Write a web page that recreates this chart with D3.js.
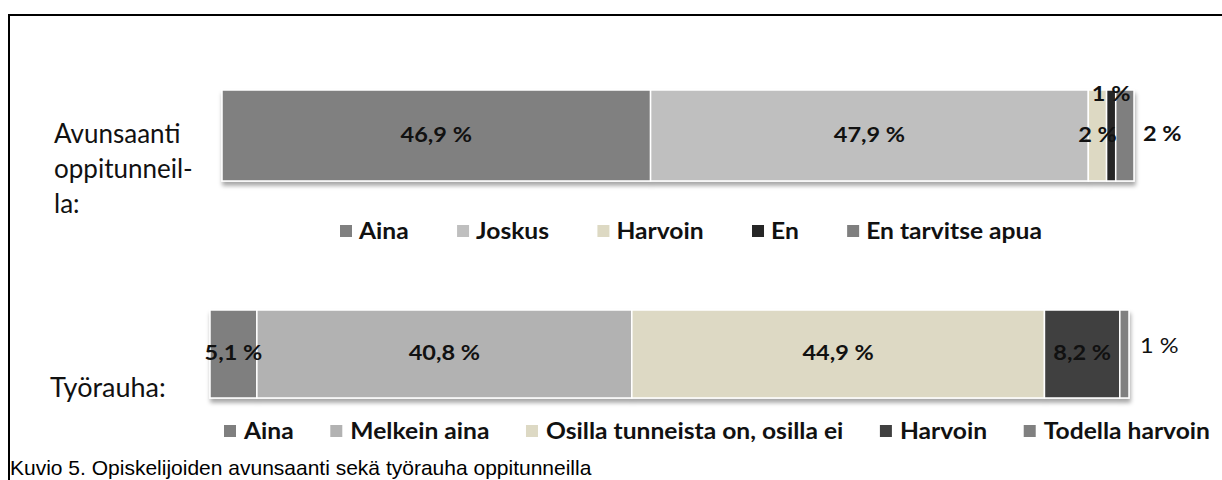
<!DOCTYPE html>
<html>
<head>
<meta charset="utf-8">
<script src="https://cdn.jsdelivr.net/npm/d3@7/dist/d3.min.js"></script>
<style>
    body { margin: 0; background: #ffffff; }
    svg { display: block; }
</style>
</head>
<body>
<div class="figure"></div>
<script>

// Avunsaanti oppitunneilla
var help_categories = ["Aina", "Joskus", "Harvoin", "En", "En tarvitse apua"];
var help_values = [46.9, 47.9, 2, 1, 2];
var help_labels = ["46,9 %", "47,9 %", "2 %", "1 %", "2 %"];
var help_colors = ["#808080", "#bfbfbf", "#ddd9c3", "#262626", "#7f7f7f"];

// Työrauha
var peace_categories = ["Aina", "Melkein aina", "Osilla tunneista on, osilla ei", "Harvoin", "Todella harvoin"];
var peace_values = [5.1, 40.8, 44.9, 8.2, 1];
var peace_labels = ["5,1 %", "40,8 %", "44,9 %", "8,2 %", "1 %"];
var peace_colors = ["#7f7f7f", "#b2b2b2", "#ddd9c4", "#404040", "#808080"];

var caption = "Kuvio 5. Opiskelijoiden avunsaanti sekä työrauha oppitunneilla";

var div_width = 1222;
var div_height = 480;
var FONT = "Lato, 'Open Sans', sans-serif";

var svg = d3.select(".figure").append("svg")
    .attr("width", div_width)
    .attr("height", div_height);

var defs = svg.append("defs");
defs.append("filter")
    .attr("id", "barshadow")
    .attr("x", "-5%").attr("y", "-20%")
    .attr("width", "110%").attr("height", "150%")
    .append("feDropShadow")
    .attr("dx", 1)
    .attr("dy", 4)
    .attr("stdDeviation", 2)
    .attr("flood-color", "#000")
    .attr("flood-opacity", 0.35);

// frame of the figure
svg.append("line")
    .attr("x1", 8).attr("x2", div_width)
    .attr("y1", 15).attr("y2", 15)
    .attr("stroke", "#000").attr("stroke-width", 2);
svg.append("line")
    .attr("x1", 9).attr("x2", 9)
    .attr("y1", 14).attr("y2", div_height)
    .attr("stroke", "#000").attr("stroke-width", 2);

// the original chart is a bit stretched sideways, so the chart texts are too
var STRETCH = 1.12;

function stackedBar(values, labels, colors, opts) {
    var x = d3.scaleLinear()
        .domain([0, d3.sum(values)])
        .range([opts.x0, opts.x1]);

    var cum = d3.cumsum(values);
    var segs = values.map(function (v, i) {
        return { start: cum[i] - v, end: cum[i], label: labels[i], color: colors[i], i: i };
    });

    var g = svg.append("g");

    g.append("g")
        .attr("filter", "url(#barshadow)")
        .selectAll("rect")
        .data(segs)
        .enter().append("rect")
        .attr("x", function (d) { return x(d.start); })
        .attr("y", opts.y0)
        .attr("width", function (d) { return x(d.end) - x(d.start); })
        .attr("height", opts.y1 - opts.y0)
        .attr("fill", function (d) { return d.color; })
        .attr("stroke", "#ffffff")
        .attr("stroke-width", 1.5);

    var mid = (opts.y0 + opts.y1) / 2;

    g.selectAll("text.val")
        .data(segs)
        .enter().append("text")
        .attr("class", "val")
        .attr("transform", function (d) {
            var p = opts.place[d.i];
            var tx = p == "outside" ? x(d.end) + opts.outGap : (x(d.start) + x(d.end)) / 2;
            var ty = mid + 1;
            if (p == "top") ty = opts.y0 + 6;
            if (p == "outside") ty = mid + opts.outDy;
            return "translate(" + tx + "," + ty + ") scale(" + STRETCH + ",1)";
        })
        .attr("text-anchor", function (d) { return opts.place[d.i] == "outside" ? "start" : "middle"; })
        .attr("dominant-baseline", "middle")
        .style("font-family", FONT)
        .style("font-size", function (d) { return (opts.place[d.i] == "outside" ? opts.outSize : opts.fontSize) + "px"; })
        .style("font-weight", function (d) { return opts.place[d.i] == "outside" ? opts.outWeight : opts.weight; })
        .style("fill", "#111")
        .text(function (d) { return d.label; });
}


function legend(categories, colors, opts) {
    var g = svg.append("g");
    var items = g.selectAll("g.item")
        .data(categories)
        .enter().append("g")
        .attr("class", "item");

    items.append("rect")
        .attr("width", opts.box)
        .attr("height", opts.box)
        .attr("y", opts.y - opts.box / 2)
        .attr("fill", function (d, i) { return colors[i]; });

    items.append("text")
        .attr("transform", "translate(" + (opts.box + opts.pad) + "," + (opts.y + opts.fontSize * 0.36) + ") scale(" + STRETCH + ",1)")
        .style("font-family", FONT)
        .style("font-size", opts.fontSize + "px")
        .style("font-weight", opts.weight)
        .style("fill", "#111")
        .text(function (d) { return d; });

    // spread the entries between the left and right ends
    var widths = [];
    items.each(function () {
        var tw = d3.select(this).select("text").node().getComputedTextLength() * STRETCH;
        widths.push(opts.box + opts.pad + tw);
    });
    var gap = (opts.x1 - opts.x0 - d3.sum(widths)) / (categories.length - 1);
    var pos = opts.x0;
    items.attr("transform", function (d, i) {
        var t = "translate(" + pos + ",0)";
        pos += widths[i] + gap;
        return t;
    });
}


function rowTitle(lines, x, y, lineH, size) {
    var t = svg.append("text")
        .style("font-family", FONT)
        .style("font-size", size + "px")
        .style("fill", "#111");
    lines.forEach(function (s, i) {
        t.append("tspan").attr("x", x).attr("y", y + i * lineH).text(s);
    });
}


// upper chart
rowTitle(["Avunsaanti", "oppitunneil-", "la:"], 54, 143, 35, 26);
stackedBar(help_values, help_labels, help_colors, {
    x0: 222, x1: 1134, y0: 90, y1: 181,
    place: ["center", "center", "center", "top", "outside"],
    outGap: 9, outDy: 0,
    fontSize: 21, weight: "bold", outSize: 21, outWeight: "bold"
});
legend(help_categories, help_colors, {
    x0: 340, x1: 1042, y: 231, box: 12, pad: 7,
    fontSize: 22, weight: "bold"
});

// lower chart
rowTitle(["Työrauha:"], 50, 397, 35, 27);
stackedBar(peace_values, peace_labels, peace_colors, {
    x0: 210, x1: 1129, y0: 310, y1: 398,
    place: ["center", "center", "center", "center", "outside"],
    outGap: 11, outDy: -6,
    fontSize: 21, weight: "bold", outSize: 21, outWeight: "normal"
});
legend(peace_categories, peace_colors, {
    x0: 224, x1: 1210, y: 431, box: 12, pad: 8,
    fontSize: 22, weight: "bold"
});

svg.append("text")
    .attr("x", 10)
    .attr("y", 475)
    .style("font-family", "'Liberation Sans', Arial, sans-serif")
    .style("font-size", "21px")
    .style("fill", "#000")
    .text(caption);

</script>
</body>
</html>
